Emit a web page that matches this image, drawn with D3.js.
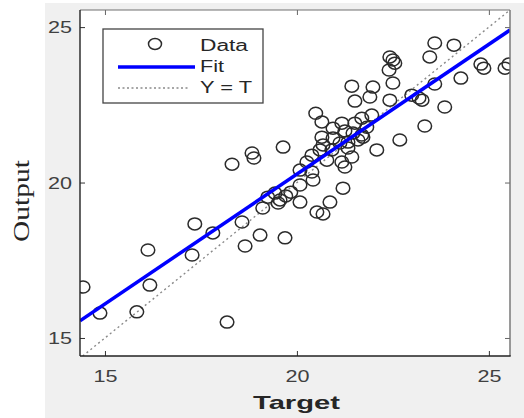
<!DOCTYPE html>
<html><head><meta charset="utf-8">
<script src="https://cdn.jsdelivr.net/npm/d3@7"></script>
<style>html,body{margin:0;padding:0;background:#fff;}svg{display:block;}</style>
</head><body>
<svg id="chart" width="524" height="418"></svg>
<script>
// ---- data ----
const targets = [14.43,14.87,15.83,16.12,16.17,17.27,18.18,17.34,17.81,18.31,18.83,18.88,18.57,18.65,19.04,19.69,19.11,19.24,19.43,19.56,19.71,19.84,19.51,20.08,19.64,20.08,20.39,20.42,20.08,20.52,20.68,20.86,21.20,20.26,20.39,20.65,20.68,20.60,20.78,20.65,20.49,20.94,21.17,21.25,20.94,21.12,21.33,21.33,21.43,21.17,21.25,21.46,21.69,21.95,21.82,21.72,21.59,22.08,22.68,21.43,21.98,21.51,21.90,22.42,22.50,22.40,22.42,22.50,22.55,22.99,23.18,23.26,23.59,24.09,23.46,23.59,24.27,24.79,24.87,25.42,25.52,23.85,23.33,21.69,20.91,21.51];
const outputs = [16.64,15.80,15.84,17.83,16.70,17.67,15.51,18.67,18.38,20.59,20.95,20.79,18.73,17.96,18.31,18.22,19.18,19.53,19.66,19.44,19.57,19.69,19.34,19.37,21.14,20.40,20.34,20.08,19.92,19.05,18.99,19.37,19.82,20.66,20.88,21.46,21.21,21.05,20.72,21.95,22.23,21.75,21.91,21.66,21.43,21.27,21.30,21.11,20.82,20.66,20.50,21.59,22.07,22.17,21.78,21.46,21.37,21.05,21.37,23.10,23.07,22.62,22.75,22.65,23.20,23.62,24.04,23.94,23.84,22.81,22.72,22.65,24.49,24.42,24.04,23.17,23.36,23.81,23.68,23.68,23.81,22.43,21.82,21.53,21.05,21.91];
const fitSlope = 0.835, fitIntercept = 3.57;
const xDomain = [14.35, 25.55], yDomain = [14.42, 25.55];
const xTicks = [15, 20, 25], yTicks = [15, 20, 25];
const legendLabels = ["Data", "Fit", "Y = T"];
const xLabel = "Target", yLabel = "Output";

const svg = d3.select("#chart");
const L = 80, R = 510, T = 10, B = 356;
const x = d3.scaleLinear().domain(xDomain).range([L, R]);
const y = d3.scaleLinear().domain(yDomain).range([B, T]);

// figure background
svg.append("rect").attr("x",45).attr("y",3).attr("width",479).attr("height",415).attr("fill","#f0f0f0");
svg.append("rect").attr("x",L).attr("y",T).attr("width",R-L).attr("height",B-T).attr("fill","#fff");

svg.append("clipPath").attr("id","clip").append("rect").attr("x",L).attr("y",T).attr("width",R-L).attr("height",B-T);
const plot = svg.append("g").attr("clip-path","url(#clip)");

// Y = T line
const lo = Math.max(xDomain[0], yDomain[0]), hi = Math.min(xDomain[1], yDomain[1]);
plot.append("line").attr("x1",x(lo)).attr("y1",y(lo)).attr("x2",x(hi)).attr("y2",y(hi))
  .attr("stroke","#8a8a8a").attr("stroke-width",1.4).attr("stroke-dasharray","2,3");

// data circles
const pts = targets.map((t,i)=>({t, o: outputs[i]}));
plot.selectAll("ellipse.pt").data(pts).enter().append("ellipse").attr("class","pt")
  .attr("cx",d=>x(d.t)).attr("cy",d=>y(d.o)).attr("rx",6.8).attr("ry",6)
  .attr("fill","none").attr("stroke","#2b2b2b").attr("stroke-width",1.5);

// fit line
plot.append("line")
  .attr("x1",x(xDomain[0])).attr("y1",y(fitSlope*xDomain[0]+fitIntercept))
  .attr("x2",x(xDomain[1])).attr("y2",y(fitSlope*xDomain[1]+fitIntercept))
  .attr("stroke","#0000ff").attr("stroke-width",3.5);

// axes
function styleAxis(g, color){
  g.select(".domain").remove();
  g.selectAll(".tick line").attr("stroke",color).attr("stroke-width",1);
}
const gx = svg.append("g").attr("transform",`translate(0,${B})`)
  .call(d3.axisBottom(x).tickValues(xTicks).tickSize(-5).tickFormat(d3.format("d")));
styleAxis(gx,"#333");
gx.selectAll("text").attr("y",26).attr("dy",0).attr("font-size",16).attr("fill","#404040")
  .attr("font-family","Liberation Sans, Arial, sans-serif").attr("textLength",24).attr("lengthAdjust","spacingAndGlyphs");

const gy = svg.append("g").attr("transform",`translate(${L},0)`)
  .call(d3.axisLeft(y).tickValues(yTicks).tickSize(-5).tickFormat(d3.format("d")));
styleAxis(gy,"#333");
gy.selectAll("text").attr("x",-8).attr("dy","0.35em").attr("font-size",16).attr("fill","#404040")
  .attr("font-family","Liberation Sans, Arial, sans-serif").attr("textLength",24).attr("lengthAdjust","spacingAndGlyphs");

const gt = svg.append("g").attr("transform",`translate(0,${T})`)
  .call(d3.axisTop(x).tickValues(xTicks).tickSize(-5).tickFormat(""));
styleAxis(gt,"#666");
const gr = svg.append("g").attr("transform",`translate(${R},0)`)
  .call(d3.axisRight(y).tickValues(yTicks).tickSize(-5).tickFormat(""));
styleAxis(gr,"#666");

// box
svg.append("line").attr("x1",L).attr("x2",R).attr("y1",T).attr("y2",T).attr("stroke","#707070").attr("stroke-width",1.2);
svg.append("line").attr("x1",R).attr("x2",R).attr("y1",T).attr("y2",B).attr("stroke","#707070").attr("stroke-width",1.4);
svg.append("line").attr("x1",L).attr("x2",R+0.7).attr("y1",B).attr("y2",B).attr("stroke","#222").attr("stroke-width",1.4);
svg.append("line").attr("x1",L).attr("x2",L).attr("y1",T).attr("y2",B).attr("stroke","#222").attr("stroke-width",1.4);

// axis labels
svg.append("text").attr("x",296.5).attr("y",409).attr("text-anchor","middle")
  .attr("font-family","Liberation Sans, Arial, sans-serif").attr("font-weight","bold").attr("font-size",19)
  .attr("fill","#262626").attr("textLength",87).attr("lengthAdjust","spacingAndGlyphs").text(xLabel);
svg.append("text").attr("transform","translate(29,201) rotate(-90)").attr("text-anchor","middle")
  .attr("font-family","Liberation Serif, Times New Roman, serif").attr("font-size",24)
  .attr("fill","#262626").attr("textLength",82).attr("lengthAdjust","spacingAndGlyphs").text(yLabel);

// legend
const lg = svg.append("g");
lg.append("rect").attr("x",103).attr("y",29).attr("width",160).attr("height",74)
  .attr("fill","#fff").attr("stroke","#444").attr("stroke-width",1.3);
lg.append("ellipse").attr("cx",155).attr("cy",44).attr("rx",6.5).attr("ry",5.5)
  .attr("fill","none").attr("stroke","#2b2b2b").attr("stroke-width",1.5);
lg.append("line").attr("x1",118).attr("x2",195).attr("y1",67).attr("y2",67).attr("stroke","#0000ff").attr("stroke-width",3.5);
lg.append("line").attr("x1",118).attr("x2",190).attr("y1",88).attr("y2",88)
  .attr("stroke","#8a8a8a").attr("stroke-width",1.3).attr("stroke-dasharray","2,2.5");
const legW = [48, 24, 52], legY = [51, 72, 93];
legendLabels.forEach((s,i)=>{
  lg.append("text").attr("x",200).attr("y",legY[i]).attr("font-size",16)
    .attr("font-family","Liberation Sans, Arial, sans-serif").attr("fill","#262626")
    .attr("textLength",legW[i]).attr("lengthAdjust","spacingAndGlyphs").text(s);
});
</script>
</body></html>
